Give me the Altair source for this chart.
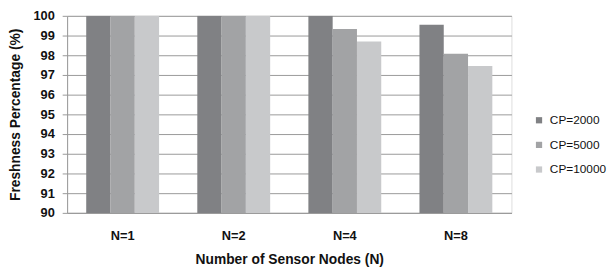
import altair as alt
import pandas as pd

categories = ["N=1", "N=2", "N=4", "N=8"]
series = ["CP=2000", "CP=5000", "CP=10000"]
cp2000 = [100, 100, 100, 99.55]
cp5000 = [100, 100, 99.33, 98.07]
cp10000 = [100, 100, 98.70, 97.46]
colors = ["#808184", "#a2a3a5", "#c8c9cb"]

rows = []
for i, c in enumerate(categories):
    for s, vals in zip(series, [cp2000, cp5000, cp10000]):
        rows.append({"N": c, "CP": s, "value": vals[i]})
df = pd.DataFrame(rows)

font = "Liberation Sans"

chart = alt.Chart(df).mark_bar(clip=True).encode(
    x=alt.X("N:N", sort=categories,
            scale=alt.Scale(paddingInner=0.344, paddingOuter=0.172),
            axis=alt.Axis(title="Number of Sensor Nodes (N)", labelAngle=0,
                          ticks=False, labelPadding=17, titlePadding=10,
                          labelFont=font, labelFontSize=13, labelFontWeight="bold",
                          titleFont=font, titleFontSize=14, titleFontWeight="bold",
                          labelColor="#111", titleColor="#111",
                          domainColor="#999")),
    xOffset=alt.XOffset("CP:N", sort=series),
    y=alt.Y("value:Q", scale=alt.Scale(domain=[90, 100], nice=False, zero=False),
            axis=alt.Axis(title="Freshness Percentage (%)", values=list(range(90, 101)),
                          tickSize=5, tickColor="#999", domainColor="#999",
                          gridColor="#999", labelPadding=8,
                          labelFont=font, labelFontSize=13, labelFontWeight="bold",
                          titleFont=font, titleFontSize=14, titleFontWeight="bold",
                          labelColor="#111", titleColor="#111", titlePadding=11)),
    color=alt.Color("CP:N", sort=series,
                    scale=alt.Scale(domain=series, range=colors),
                    legend=alt.Legend(title=None, orient="none", legendX=473, legendY=100,
                                      padding=0, symbolType="square", symbolSize=40,
                                      rowPadding=13, labelOffset=5,
                                      labelFont="Liberation Sans",
                                      labelFontSize=12, labelColor="#111",
                                      symbolStrokeWidth=0))
).properties(
    width=451, height=200,
    padding={"left": 0, "top": 0, "right": 0, "bottom": 0}
).configure_view(stroke=None).configure(background="white")

chart.save("out.html", embed_options={"renderer": "svg", "actions": False})
